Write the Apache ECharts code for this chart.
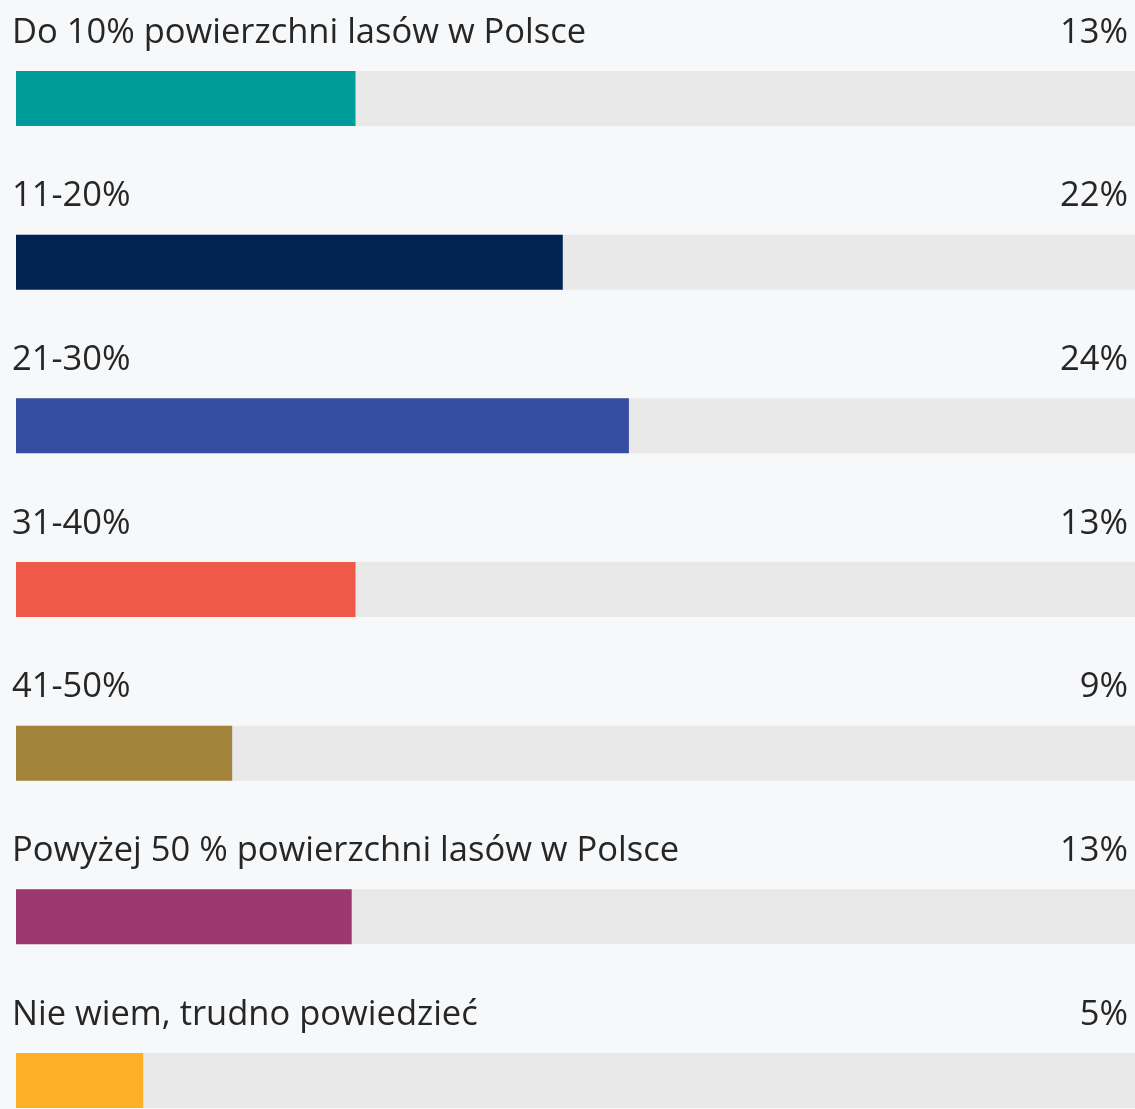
<!DOCTYPE html>
<html>
<head>
<meta charset="utf-8">
<script src="https://cdn.jsdelivr.net/npm/echarts@6/dist/echarts.min.js"></script>
<style>
  html, body { margin: 0; padding: 0; background: #f7f8fa; }
  #barChart { width: 1135px; height: 1109px; }
</style>
</head>
<body>
<div id="barChart"></div>
<script>
var categories = ['Do 10% powierzchni lasów w Polsce', '11-20%', '21-30%', '31-40%', '41-50%', 'Powyżej 50 % powierzchni lasów w Polsce', 'Nie wiem, trudno powiedzieć'];
var values = [13.35, 21.5, 24.1, 13.35, 8.5, 13.2, 5.0];
var valueLabels = ['13%', '22%', '24%', '13%', '9%', '13%', '5%'];
var barColors = ['#009c9a', '#002352', '#354e9f', '#ef5a48', '#a3843b', '#9c3770', '#fdb025'];
var axisMax = 44;

var dom = document.getElementById('barChart');
var myChart = echarts.init(dom);

var fontFamily = '"Open Sans", sans-serif';

option = {
    backgroundColor: '#f7f8fa',
    animation: false,
    grid: {
        left: 16,
        right: 0,
        top: 98.5,
        bottom: 28.5
    },
    xAxis: {
        type: 'value',
        min: 0,
        max: axisMax,
        show: false
    },
    yAxis: {
        type: 'category',
        inverse: true,
        boundaryGap: false,
        data: categories,
        show: false
    },
    series: [
        {
            // grey track with the value on the right
            type: 'bar',
            barWidth: 55,
            silent: true,
            itemStyle: { color: '#e9e9e9' },
            data: categories.map(function () { return axisMax; }),
            label: {
                show: true,
                position: ['100%', -38],
                align: 'right',
                verticalAlign: 'middle',
                offset: [-7, 0],
                color: '#262626',
                fontFamily: fontFamily,
                fontSize: 34.5,
                formatter: function (p) { return valueLabels[p.dataIndex]; }
            },
            z: 1
        },
        {
            type: 'bar',
            barWidth: 55,
            barGap: '-100%',
            data: values.map(function (v, i) {
                return { value: v, itemStyle: { color: barColors[i] } };
            }),
            label: {
                show: true,
                position: [-4, -38],
                align: 'left',
                verticalAlign: 'middle',
                color: '#262626',
                fontFamily: fontFamily,
                fontSize: 34.5,
                formatter: function (p) { return categories[p.dataIndex]; }
            },
            z: 2
        }
    ]
};

if (option && typeof option === 'object') {
    myChart.setOption(option, true);
}
</script>
</body>
</html>
